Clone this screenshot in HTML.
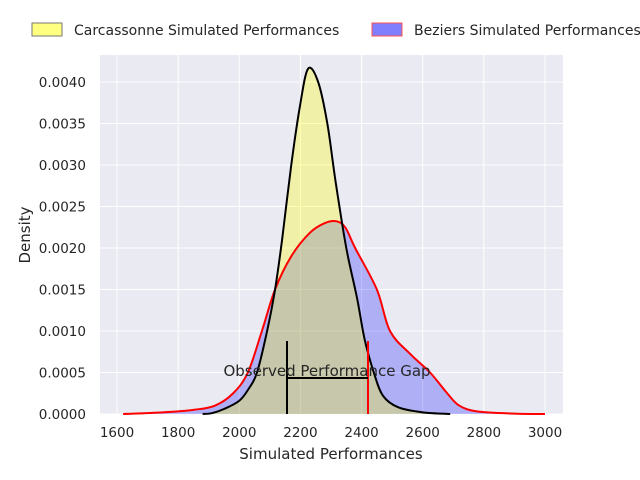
<!DOCTYPE html>
<html><head><meta charset="utf-8"><style>
body{margin:0;background:#fff;}
svg{display:block;font-family:"DejaVu Sans","Liberation Sans",sans-serif;}
</style></head><body>
<svg id="s" width="640" height="480" xmlns="http://www.w3.org/2000/svg">
<rect x="100" y="55" width="463" height="359" fill="#eaeaf2"/>
<g id="grid" stroke="#fff" stroke-width="1"></g>
<path id="bfill" fill="#0000ff" fill-opacity="0.25"/>
<path id="cfill" fill="#ffff00" fill-opacity="0.3"/>
<path id="bline" fill="none" stroke="#ff0000" stroke-width="2"/>
<path id="cline" fill="none" stroke="#000" stroke-width="2"/>
<line x1="287" y1="414" x2="287" y2="341" stroke="#000" stroke-width="2"/>
<line x1="368" y1="414" x2="368" y2="341" stroke="#ff0000" stroke-width="2"/>
<line x1="287" y1="378" x2="368" y2="378" stroke="#000" stroke-width="2"/>
<text x="327" y="376" font-size="15" fill="#262626" text-anchor="middle">Observed Performance Gap</text>
<g id="ticks" font-size="13.5" fill="#262626"></g>
<text x="331" y="459" font-size="15" fill="#262626" text-anchor="middle">Simulated Performances</text>
<text transform="translate(30,235) rotate(-90)" font-size="15" fill="#262626" text-anchor="middle">Density</text>
<rect x="32" y="23" width="30" height="13" fill="#ffff80" stroke="#777" stroke-width="1"/>
<text x="74" y="35" font-size="14" fill="#262626">Carcassonne Simulated Performances</text>
<rect x="372" y="23" width="30" height="13" fill="#8080ff" stroke="#ff5050" stroke-width="1"/>
<text x="414" y="35" font-size="14" fill="#262626">Beziers Simulated Performances</text>
</svg>
<script>
var X=function(v){return 117+(v-1600)*428/1400;},Y=function(v){return 414-v*83000;};
var g=document.getElementById('grid'),t=document.getElementById('ticks'),h='',tt='';
for(var v=1600;v<=3000;v+=200){var x=X(v);h+='<line x1="'+x+'" y1="55" x2="'+x+'" y2="414"/>';tt+='<text x="'+x+'" y="437" text-anchor="middle">'+v+'</text>';}
for(var i=0;i<=8;i++){var y=Y(i*0.0005);h+='<line x1="100" y1="'+y+'" x2="563" y2="'+y+'"/>';tt+='<text x="86" y="'+(y+5)+'" text-anchor="end">'+(i*0.0005).toFixed(4)+'</text>';}
g.innerHTML=h;t.innerHTML=tt;
function path(pts){var p=pts.map(function(a){return [X(a[0]),Y(a[1])];});var d='M'+p[0][0]+','+p[0][1];
for(var i=0;i<p.length-1;i++){var p0=p[i-1]||p[i],p1=p[i],p2=p[i+1],p3=p[i+2]||p2;
d+=' C'+(p1[0]+(p2[0]-p0[0])/6)+','+(p1[1]+(p2[1]-p0[1])/6)+' '+(p2[0]-(p3[0]-p1[0])/6)+','+(p2[1]-(p3[1]-p1[1])/6)+' '+p2[0]+','+p2[1];}
return {d:d,f:d+' L'+p[p.length-1][0]+','+Y(0)+' L'+p[0][0]+','+Y(0)+' Z'};}
var C=[[1880,0],[1910,0.00001],[1950,0.00006],[2000,0.00016],[2030,0.0003],[2058,0.0005],[2091,0.001],[2117,0.0015],[2140,0.0021],[2170,0.003],[2198,0.0037],[2225,0.00416],[2258,0.004],[2288,0.0035],[2315,0.0028],[2350,0.002],[2385,0.0014],[2410,0.0009],[2440,0.0005],[2470,0.00022],[2520,0.00008],[2600,0.00002],[2690,0]];
var B=[[1620,0],[1750,0.00002],[1850,0.00005],[1920,0.0001],[1980,0.00025],[2028,0.0005],[2074,0.001],[2117,0.0015],[2170,0.0019],[2230,0.00218],[2280,0.0023],[2320,0.00232],[2348,0.00224],[2379,0.002],[2450,0.0015],[2493,0.001],[2560,0.00072],[2624,0.0005],[2680,0.00025],[2720,0.0001],[2780,0.00003],[2900,0.000005],[3000,0]];
var c=path(C),b=path(B);
document.getElementById('cline').setAttribute('d',c.d);document.getElementById('cfill').setAttribute('d',c.f);
document.getElementById('bline').setAttribute('d',b.d);document.getElementById('bfill').setAttribute('d',b.f);
</script>
</body></html>
